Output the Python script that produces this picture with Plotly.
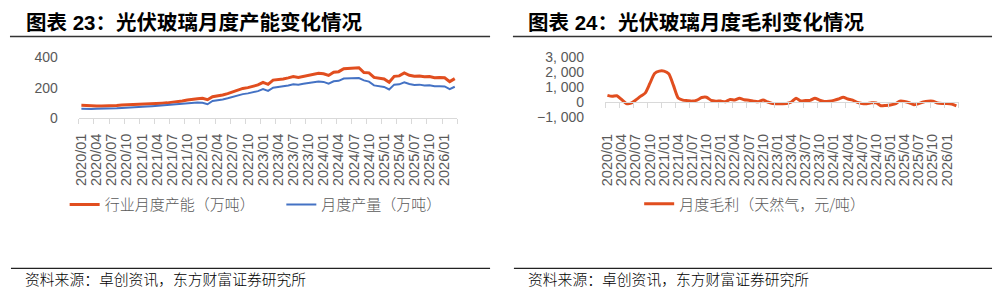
import plotly.graph_objects as go

# ---------------- data ----------------
months = [f"{y}/{m:02d}" for y in range(2020, 2027) for m in range(1, 13)][:75]

capacity = [83, 80, 80, 79, 79, 79, 78, 82, 85, 86, 87, 88,
            91, 93, 94, 96, 97, 99, 103, 104, 112, 118, 124, 127,
            129, 120, 140, 145, 151, 160, 172, 183, 195, 200, 210, 218,
            235, 222, 250, 252, 258, 265, 273, 268, 274, 282, 287, 296,
            292, 281, 302, 306, 325, 328, 330, 332, 300, 298, 268, 265,
            258, 236, 275, 278, 298, 282, 275, 277, 272, 274, 266, 267,
            266, 240, 260]

output = [60, 58, 59, 60, 60, 61, 59, 63, 65, 66, 67, 70,
          73, 75, 77, 80, 82, 85, 88, 91, 94, 97, 99, 101,
          100, 90, 112, 116, 122, 130, 140, 150, 157, 162, 168, 177,
          190, 178, 200, 203, 210, 214, 222, 220, 226, 232, 236, 241,
          238, 226, 242, 245, 260, 263, 264, 264, 248, 240, 215, 210,
          205, 188, 220, 222, 235, 224, 218, 220, 215, 216, 210, 210,
          208, 190, 206]

margin_gas = [450, 380, 420, 170, -100, -80, 130, 380, 600, 1250, 1920, 2080,
              2080, 1900, 1120, 270, 130, 90, 60, 130, 300, 320, 110, 60,
              60, 20, 170, 130, 250, 150, 120, 60, 20, 130, 0, -100,
              -110, -110, -100, 0, 250, 70, 100, 110, 260, 120, 40, 60,
              110, 200, 320, 200, 130, -30, -100, -110, -50, -60, -250, -230,
              -200, -130, 60, 40, -50, -190, -110, 0, 60, 60, -70, -100,
              -105, -140, -260]

left_yticks = [0, 200, 400]
left_yticktext = ["0", "200", "400"]
right_yticks = [-1000, 0, 1000, 2000, 3000]
right_yticktext = ["−1, 000", "0", "1, 000", "2, 000", "3, 000"]

names = ["行业月度产能（万吨）", "月度产量（万吨）", "月度毛利（天然气，元/吨）"]
titles = ["图表 23：光伏玻璃月度产能变化情况", "图表 24：光伏玻璃月度毛利变化情况"]
source = "资料来源：卓创资讯，东方财富证券研究所"

# ---------------- style ----------------
W, H = 997, 299
RED = "#E14E1F"
BLUE = "#4472C4"
GRAY = "#595959"
AXIS = "#D9D9D9"
NUM_FONT = "Liberation Sans, Arial, sans-serif"
CJK_FONT = "Noto Sans CJK SC, sans-serif"
TITLE_FONT = "Liberation Sans, Noto Sans CJK SC, sans-serif"


def fx(p):
    return p / W


def fy(p):
    return 1 - p / H


idx = list(range(len(months)))
tickvals = idx[::3]
ticktext = months[::3]

fig = go.Figure()
fig.add_trace(go.Scatter(x=idx, y=capacity, name=names[0], mode="lines",
                         line=dict(color=RED, width=3), xaxis="x", yaxis="y",
                         legend="legend"))
fig.add_trace(go.Scatter(x=idx, y=output, name=names[1], mode="lines",
                         line=dict(color=BLUE, width=2), xaxis="x", yaxis="y",
                         legend="legend3"))
fig.add_trace(go.Scatter(x=idx, y=margin_gas, name=names[2], mode="lines",
                         line=dict(color=RED, width=3, shape="spline", smoothing=0.6),
                         xaxis="x2", yaxis="y2", legend="legend2"))

xcommon = dict(range=[-0.5, len(months) - 0.5], tickmode="array",
               tickvals=tickvals, ticktext=ticktext, tickangle=-90,
               tickfont=dict(family=NUM_FONT, size=14.5, color=GRAY),
               ticks="", showgrid=False, zeroline=False,
               showline=True, linecolor=AXIS, linewidth=1,
               minor=dict(tick0=-0.5, dtick=3, ticks="outside", ticklen=5,
                          tickcolor=AXIS, tickwidth=1, showgrid=False))

ldom_y = [fy(116), fy(52.3)]
rdom_y = [fy(115), fy(52.3)]
r_range = [-1000, 3000]
zero_pos = rdom_y[0] + (0 - r_range[0]) / (r_range[1] - r_range[0]) * (rdom_y[1] - rdom_y[0])

legend_font = dict(family=CJK_FONT, size=15, color=GRAY, weight=300)


def legend_at(x_px, y_px):
    return dict(orientation="h", x=fx(x_px), y=fy(y_px), xanchor="left", yanchor="middle",
                font=legend_font, bgcolor="rgba(0,0,0,0)", borderwidth=0)


fig.update_layout(
    width=W, height=H, margin=dict(l=0, r=0, t=0, b=0),
    paper_bgcolor="white", plot_bgcolor="white",
    xaxis=dict(domain=[fx(73.3), fx(454)], anchor="y", ticklabelstandoff=9, **xcommon),
    yaxis=dict(domain=ldom_y, range=[0, 400], tickvals=left_yticks,
               ticktext=left_yticktext, showgrid=False, zeroline=False,
               showline=False, ticks="", ticklabelstandoff=20,
               tickfont=dict(family=NUM_FONT, size=14, color=GRAY), anchor="x"),
    xaxis2=dict(domain=[fx(602.7), fx(958.5)], anchor="free", position=zero_pos,
                ticklabelstandoff=25, **xcommon),
    yaxis2=dict(domain=rdom_y, range=r_range, tickvals=right_yticks,
                ticktext=right_yticktext, showgrid=False, zeroline=False,
                showline=False, ticks="", ticklabelstandoff=20,
                tickfont=dict(family=NUM_FONT, size=14, color=GRAY), anchor="x2"),
    legend=legend_at(59, 208),
    legend3=legend_at(277, 208),
    legend2=legend_at(637, 207),
    showlegend=True,
)

# titles, rules and source notes
for x0, x1, title in [(4, 487, titles[0]), (510, 992, titles[1])]:
    tx = x0 + 14 if x0 < 100 else x0 + 13
    fig.add_annotation(text=f"<b>{title}</b>", x=fx(tx), y=fy(15), xref="paper", yref="paper",
                       xanchor="left", yanchor="middle", showarrow=False,
                       font=dict(family=TITLE_FONT, size=20.5, color="black"))
    fig.add_shape(type="line", xref="paper", yref="paper", x0=fx(x0), x1=fx(x1),
                  y0=fy(30), y1=fy(30), line=dict(color="#333333", width=1.5))
    fig.add_shape(type="line", xref="paper", yref="paper", x0=fx(x0 + 1), x1=fx(x1),
                  y0=fy(275), y1=fy(275), line=dict(color="#222222", width=1.3))
    fig.add_annotation(text=source, x=fx(x0 + 13), y=fy(285.5), xref="paper", yref="paper",
                       xanchor="left", yanchor="middle", showarrow=False,
                       font=dict(family=CJK_FONT, size=14.8, color="black", weight=300))

fig.write_html("out.html")
